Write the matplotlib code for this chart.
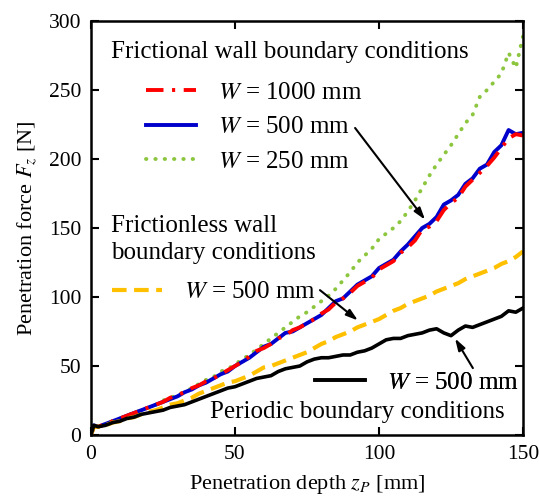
import numpy as np
import matplotlib.pyplot as plt

plt.rcParams['font.family'] = ['Liberation Serif', 'DejaVu Serif']
plt.rcParams['mathtext.fontset'] = 'stix'

# penetration depth [mm]
z = [0, 1, 2.5, 5, 7.5, 10, 12.5, 15, 17.5, 20, 22.5, 25, 27.5, 30, 32.5, 35,
     37.5, 40, 42.5, 45, 47.5, 50, 52.5, 55, 57.5, 60, 62.5, 65, 67.5, 70,
     72.5, 75, 77.5, 80, 82.5, 85, 87.5, 90, 92.5, 95, 97.5, 100, 102.5, 105,
     107.5, 110, 112.5, 115, 117.5, 120, 122.5, 125, 127.5, 130, 132.5, 135,
     137.5, 140, 142.5, 145, 147.5, 150]

# frictional wall, W = 1000 mm
f_1000 = [0, 6, 6, 8, 10, 12, 14, 16, 18, 20, 22, 24, 27, 29, 31, 34, 36, 39,
          41, 44, 47, 50, 53, 57, 61, 63, 66, 70, 72, 76, 78, 81, 84, 88, 91,
          96, 99, 103, 108, 111, 114, 120, 123, 126, 132, 136, 141, 149, 151,
          155, 163, 168, 172, 180, 185, 190, 195, 201, 208, 215, 218, 217]
# frictional wall, W = 500 mm
f_500 = [0, 7, 6, 8, 10, 12, 14, 16, 18, 20, 22, 24, 26, 28, 31, 33, 36, 38,
         41, 44, 46, 50, 53, 56, 60, 64, 66, 70, 74, 75, 78, 81, 84, 87, 92,
         97, 99, 104, 109, 112, 115, 121, 124, 127, 133, 138, 144, 150, 153,
         158, 167, 170, 174, 182, 186, 193, 196, 205, 210, 221, 218, 219]
# frictional wall, W = 250 mm
f_250 = [0, 6, 6, 8, 10, 12, 14, 16, 18, 20, 22, 25, 27, 29, 31, 34, 37, 40,
         42, 46, 48, 51, 55, 58, 62, 66, 70, 74, 78, 82, 86, 89, 93, 97, 101,
         106, 112, 118, 125, 130, 135, 142, 146, 150, 155, 162, 170, 179, 188,
         196, 203, 210, 218, 226, 232, 245, 250, 256, 262, 277, 266, 289]
# frictionless wall, W = 500 mm
fl_500 = [0, 6, 6, 7, 9, 10, 12, 13, 15, 17, 18, 20, 22, 23, 25, 27, 30, 32,
          34, 36, 38, 39, 41, 43, 46, 49, 50, 52, 54, 56, 58, 60, 63, 66, 68,
          71, 73, 75, 78, 80, 82, 84, 87, 90, 92, 95, 97, 99, 101, 104, 106,
          108, 110, 113, 115, 117, 119, 121, 124, 126, 129, 133]
# periodic boundary, W = 500 mm
per_500 = [0, 7, 6, 7, 9, 10, 12, 13, 15, 16, 17, 18, 20, 21, 22, 24, 26, 28,
           30, 32, 34, 35, 37, 39, 41, 42, 43, 46, 48, 49, 50, 53, 55, 56, 56,
           57, 58, 58, 60, 61, 63, 66, 69, 70, 70, 72, 73, 74, 76, 77, 74, 72,
           76, 79, 78, 80, 82, 84, 86, 90, 89, 92]

lab = r'$W$ = %d mm'

fig = plt.figure(figsize=(5.39, 4.97), dpi=100)
ax = fig.add_axes([0.1688, 0.1247, 0.8015, 0.833])

l_green, = ax.plot(z, f_250, color='#8cc63f', lw=2.8, dashes=(0.1, 2.3),
                   dash_capstyle='round', label=lab % 250)
l_blue, = ax.plot(z, f_500, color='#0000cc', lw=2.8, label=lab % 500)
l_red, = ax.plot(z, f_1000, color='#ff0000', lw=2.8, dashes=(4.5, 2.2, 0.8, 2.2),
                 label=lab % 1000)
l_orange, = ax.plot(z, fl_500, color='#ffc000', lw=3.0, dashes=(3.5, 1.8),
                    label=lab % 500)
l_black, = ax.plot(z, per_500, color='black', lw=2.6, label=lab % 500)

ax.set_xlim(0, 150)
ax.set_ylim(0, 300)
ax.set_xticks([0, 50, 100, 150])
ax.set_yticks(np.arange(0, 301, 50))
ax.tick_params(direction='in', top=True, right=True, length=6, width=1.5,
               labelsize=15.5, pad=7)
for s in ax.spines.values():
    s.set_linewidth(1.8)

ax.set_xlabel(r'Penetration depth $z_P$ [mm]', fontsize=16, labelpad=7)
ax.set_ylabel(r'Penetration force $F_z$ [N]', fontsize=16, labelpad=7)

fs = 18
kw = dict(frameon=False, fontsize=fs, handlelength=2.0, handletextpad=0.88,
          borderpad=0, borderaxespad=0, labelspacing=0.48)

ax.text(0.047, 0.925, 'Frictional wall boundary conditions', fontsize=fs,
        transform=ax.transAxes, va='center')
leg1 = ax.legend(handles=[l_red, l_blue, l_green], loc='center left',
                 bbox_to_anchor=(0.127, 0.744), **kw)
ax.add_artist(leg1)

ax.text(0.047, 0.473, 'Frictionless wall\nboundary conditions', fontsize=fs,
        transform=ax.transAxes, va='center', linespacing=1.3)
leg2 = ax.legend(handles=[l_orange], loc='center left',
                 bbox_to_anchor=(0.049, 0.345), **kw)
ax.add_artist(leg2)

leg3 = ax.legend(handles=[l_black], loc='center left',
                 bbox_to_anchor=(0.519, 0.126), **kw)
ax.add_artist(leg3)
ax.text(0.275, 0.056, 'Periodic boundary conditions', fontsize=fs,
        transform=ax.transAxes, va='center')

ap = dict(arrowstyle='-|>,head_length=0.7,head_width=0.22', lw=1.5,
          color='black', shrinkA=0, shrinkB=0)
ax.annotate('', xy=(116, 156), xytext=(91.7, 222.5), arrowprops=ap)
ax.annotate('', xy=(92.7, 83), xytext=(79.5, 105), arrowprops=ap)
ax.annotate('', xy=(126.4, 70), xytext=(132.6, 48.5), arrowprops=ap)

fig.savefig('out.png', dpi=100)
